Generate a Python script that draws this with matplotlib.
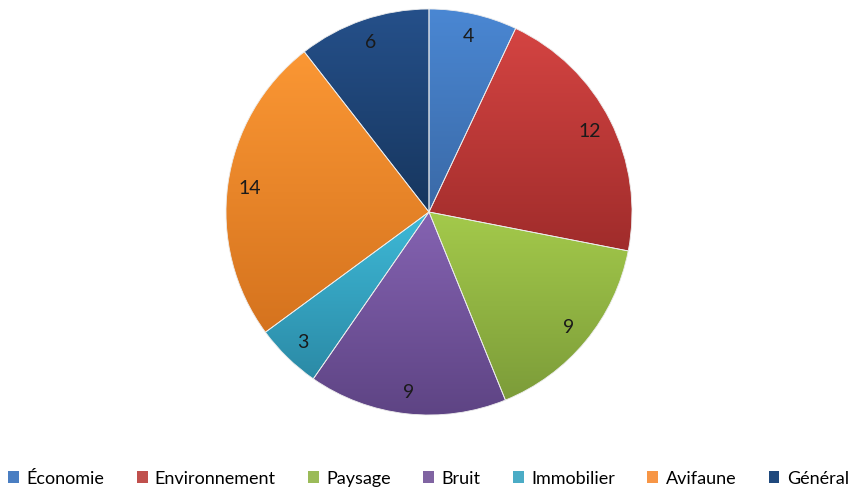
import numpy as np
import matplotlib
matplotlib.use("Agg")
import matplotlib.pyplot as plt
from matplotlib.colors import to_rgb, LinearSegmentedColormap
from matplotlib.patches import Patch

# Data
categories = ["Économie", "Environnement", "Paysage", "Bruit", "Immobilier", "Avifaune", "Général"]
values = [4, 12, 9, 9, 3, 14, 6]

# light (top) / dark (bottom) shade of each slice
top_colors = ["#4A87D3", "#D44442", "#A4CA4B", "#8563B2", "#3EB9D7", "#FB9734", "#25508A"]
bottom_colors = ["#3A69A6", "#A02C2B", "#7C9C39", "#5E4484", "#2B8AA6", "#D5731E", "#17365E"]
legend_colors = ["#4A7EC2", "#C0504D", "#9BBB59", "#8064A2", "#4BACC6", "#F79646", "#1F497D"]

plt.rcParams['font.family'] = ['Lato', 'DejaVu Sans']

fig = plt.figure(figsize=(8.57, 4.89), dpi=100)
ax = fig.add_axes([226 / 857, 73 / 489, 406 / 857, 406 / 489])

wedges, texts = ax.pie(values, startangle=90, counterclock=False, radius=1,
                       labels=[str(v) for v in values], labeldistance=0.89,
                       wedgeprops=dict(edgecolor="#ececec", linewidth=0.6),
                       textprops=dict(fontsize=14, color="#1a1a1a", ha="center", va="center"))

# vertical gradient inside each slice
for w, c1, c2 in zip(wedges, top_colors, bottom_colors):
    w.set_facecolor("none")
    bb = w.get_path().get_extents()
    cmap = LinearSegmentedColormap.from_list("g", [to_rgb(c2), to_rgb(c1)])
    grad = np.linspace(0, 1, 256).reshape(-1, 1)
    im = ax.imshow(grad, cmap=cmap, origin="lower", aspect="auto",
                   extent=[bb.x0, bb.x1, bb.y0, bb.y1], zorder=0.5)
    im.set_clip_path(w)

ax.set_xlim(-1, 1)
ax.set_ylim(-1, 1)
ax.set_aspect("equal")
ax.axis("off")

handles = [Patch(facecolor=c, edgecolor="none") for c in legend_colors]
fig.legend(handles, categories, loc="lower center", bbox_to_anchor=(0.5, -0.03), ncol=7,
           frameon=False, fontsize=13, handlelength=0.6, handleheight=0.6,
           handletextpad=0.4, columnspacing=1.8)

fig.savefig("out.png", dpi=100)
